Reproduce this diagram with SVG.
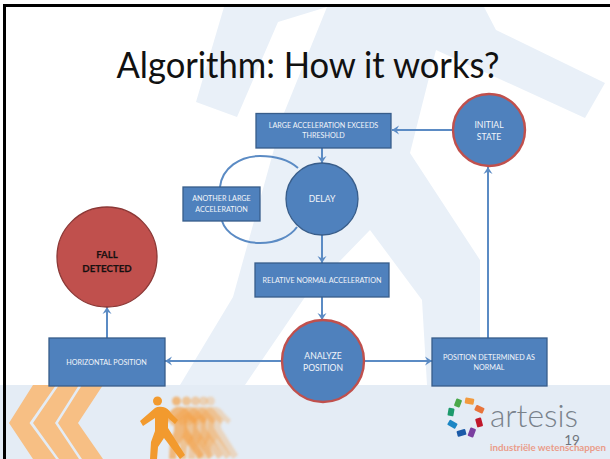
<svg xmlns="http://www.w3.org/2000/svg" width="610" height="459" viewBox="0 0 610 459">
<style>
.wm{fill:#e9f0f8}
.box,.circ{fill:#4f81bd;stroke:#385d8a;stroke-width:1.3}
.red{stroke:#c0504d;stroke-width:2.4}
.t{font-family:Lato,"Liberation Sans",sans-serif;fill:#f2f5fa;text-anchor:middle;font-size:7.2px}
.c{font-size:8.6px}
.f{font-family:Lato,sans-serif;font-size:9.700px;font-weight:700;fill:#111;text-anchor:middle;stroke:#3a1413;stroke-width:.25}
.con{fill:none;stroke:#5b8bc4;stroke-width:2}
.arr{marker-end:url(#a)}
.chev{fill:#f7bf84}
.run{fill:#f29a2e}
</style>
<defs>
<marker id="a" markerUnits="userSpaceOnUse" markerWidth="12" markerHeight="12" refX="9" refY="6" orient="auto">
<path d="M2 1.500 L9 6 L2 10.500 L4.500 6 Z" fill="#5b8bc4"/>
</marker>
<filter id="soft" x="-10%" y="-10%" width="120%" height="120%"><feGaussianBlur stdDeviation="0.9"/></filter>
<g id="runner">
<circle cx="157.500" cy="401" r="4.500"/>
<path d="M140 421 L155 408 Q158 406 163 407 Q168 408 171 413 L178 420 L175 424 L168 418 L168 428 L185 455 L180 459 L164 438 L158 447 L157 459 L150 459 L151 442 L155 431 L155 418 L143 426 Z"/>
</g>
</defs>
<rect width="610" height="459" fill="#fff"/>
<g id="background">
<path class="wm" d="M224 7 L196 102 L237 117 L278 22 L327 7 Z"/>
<path class="wm" d="M327 7 L284 113 L233 297 L180 385 L245 385 L305 297 L370 230 L422 300 L427 385 L480 385 L480 260 L410 153 L436 50 L585 118 L605 83 L496 30 L484 7 Z"/>
<rect y="385" width="610" height="74" fill="#e4ecf5"/>
<path d="M3 5.500H610M4.500 4V459" fill="none" stroke="#000" stroke-width="3"/>
</g>
<g id="logos">
<path class="chev" d="M9 423 L33 385 L56 385 L29.500 423 L56 459 L33 459 Z"/>
<path class="chev" d="M33 423 L59 385 L79 385 L55 423 L79 459 L59 459 Z"/>
<path class="chev" d="M58 423 L82 385 L103 385 L78 423 L103 459 L82 459 Z"/>
<g filter="url(#soft)" fill="#f4a24a">
<use href="#runner" x="53" opacity=".3"/>
<use href="#runner" x="46" opacity=".38"/>
<use href="#runner" x="38" opacity=".45"/>
<use href="#runner" x="29" opacity=".55"/>
<use href="#runner" x="19" opacity=".7"/>
</g>
<use href="#runner" class="run"/>
<g id="artesis-mark">
<rect x="455" y="399" width="6" height="8" rx="1" fill="#4aa84a" transform="rotate(20 458 403)"/>
<rect x="465" y="398" width="9" height="6" rx="1" fill="#f29a3e" transform="rotate(10 469 401)"/>
<rect x="475" y="406" width="9" height="6" rx="1" fill="#e8743b" transform="rotate(25 479 409)"/>
<rect x="476" y="418" width="6" height="9" rx="1" fill="#c0182b" transform="rotate(-15 479 422)"/>
<rect x="469" y="428" width="6" height="9" rx="1" fill="#7b3fa0" transform="rotate(20 472 432)"/>
<rect x="457" y="430" width="9" height="6" rx="1" fill="#1b5aa8" transform="rotate(-15 461 433)"/>
<rect x="448" y="421" width="9" height="6" rx="1" fill="#1c86c4" transform="rotate(30 452 424)"/>
<rect x="448" y="408" width="6" height="8" rx="1" fill="#1d9a6c" transform="rotate(10 451 412)"/>
</g>
<text x="490" y="427" font-family="Lato,sans-serif" font-size="31" font-weight="300" fill="#79828b" textLength="88" lengthAdjust="spacingAndGlyphs">artesis</text>
<text x="490" y="451" font-family="Lato,sans-serif" font-size="9" font-weight="700" fill="#ea9c8a" textLength="116" lengthAdjust="spacingAndGlyphs">industriële wetenschappen</text>
</g>
<text id="title" x="308" y="78" font-family="Lato,sans-serif" font-size="36" fill="#111" text-anchor="middle" textLength="383" lengthAdjust="spacingAndGlyphs">Algorithm: How it works?</text>
<g id="connectors">
<path class="con arr" d="M453 130H392"/>
<path class="con arr" d="M322 148V163"/>
<path class="con arr" d="M322 235V263"/>
<path class="con arr" d="M322 297V320"/>
<path class="con arr" d="M282 361H165"/>
<path class="con arr" d="M364 361H432"/>
<path class="con arr" d="M488 338V167"/>
<path class="con arr" d="M107 338V307"/>
<path class="con" d="M220 187 C222 168 240 156 260 156 C277 156 290 161 298 168"/>
<path class="con" d="M222 221 C226 234 242 243 260 243 C276 243 290 237 297 227"/>
</g>
<g id="large"><rect class="box" x="256" y="113.500" width="135" height="34.500"/><text class="t" x="323.500" y="128">LARGE ACCELERATION EXCEEDS</text><text class="t" x="323.500" y="138">THRESHOLD</text></g>
<g id="initial"><circle class="circ red" cx="489" cy="130" r="36"/><text class="t c" x="489" y="128">INITIAL</text><text class="t c" x="489" y="140">STATE</text></g>
<g id="delay"><circle class="circ" cx="322" cy="199" r="36"/><text class="t c" x="322" y="202">DELAY</text></g>
<g id="another"><rect class="box" x="183" y="187" width="77" height="34"/><text class="t" x="221.500" y="201">ANOTHER LARGE</text><text class="t" x="221.500" y="212">ACCELERATION</text></g>
<g id="relative"><rect class="box" x="255" y="263" width="134" height="34"/><text class="t" x="322" y="283">RELATIVE NORMAL ACCELERATION</text></g>
<g id="analyze"><circle class="circ red" cx="323" cy="361" r="41"/><text class="t c" x="323" y="359">ANALYZE</text><text class="t c" x="323" y="371">POSITION</text></g>
<g id="normal"><rect class="box" x="432" y="338" width="115" height="48"/><text class="t" x="489" y="360">POSITION DETERMINED AS</text><text class="t" x="489" y="370">NORMAL</text></g>
<g id="horizontal"><rect class="box" x="49" y="338" width="116" height="48"/><text class="t" x="106.500" y="365">HORIZONTAL POSITION</text></g>
<g id="fall"><circle cx="107" cy="257" r="50" fill="#c0504d" stroke="#8c3836" stroke-width="1.300"/><text class="f" x="107" y="258">FALL</text><text class="f" x="107" y="272">DETECTED</text></g>
<text id="page" x="572" y="445" font-family="Lato,sans-serif" font-size="13.500" fill="#6f757c" text-anchor="middle">19</text>
</svg>
